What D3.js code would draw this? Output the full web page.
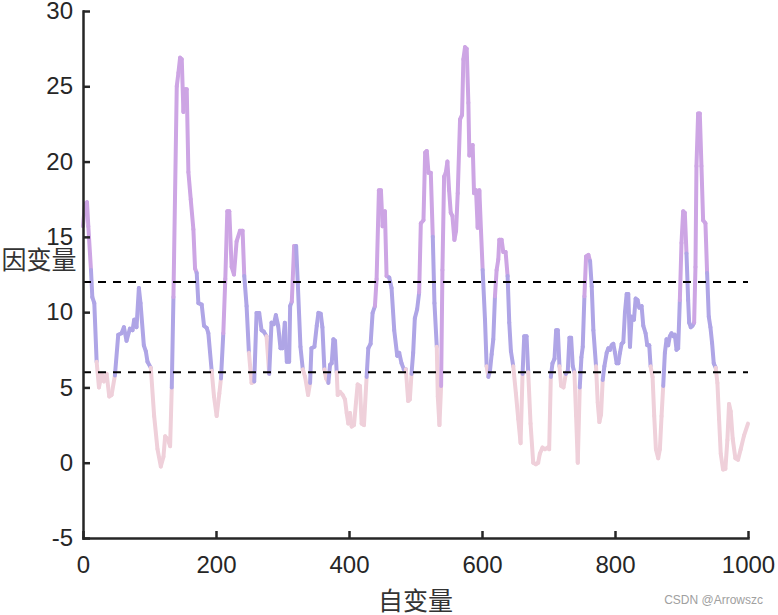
<!DOCTYPE html>
<meta charset="utf-8">
<style>
body { margin: 0; background: #fff; }
.tick text { font-family: 'Liberation Sans', Arial, sans-serif; font-size: 24px; fill: #262626; }
.axislabel { font-family: 'Noto Sans CJK SC', sans-serif; font-size: 25px; fill: #333; }
</style>
<body>
<svg class="chart"></svg>
<script src="https://cdn.jsdelivr.net/npm/d3@7/dist/d3.min.js"></script>
<script>
// chart size
let rwidth = 778, rheight = 615;
let margin = {top: 11, bottom: 77, left: 83, right: 30};

// thresholds and colours
let upper = 12, lower = 6;
let colHigh = '#cda5e4', colMid = '#afa5e6', colLow = '#efd0da';

// ticks
let xTicks = [0, 200, 400, 600, 800, 1000];
let yTicks = [-5, 0, 5, 10, 15, 20, 25, 30];

// series
let xs = [0,3,6,8,12,14,17,20.5,24,28,31.5,35.5,39.5,43,48,53,58,61.5,65.5,70.5,74.5,77,80.5,84,86.5,91.5,94.5,97,102,107,112,117,121,123.5,127,131,133.5,136,141,143.5,146,148.5,151,153.5,156,158.5,162,166,168.5,171,173.5,178.5,182,186,188.5,193.5,197,201,205,207.5,211,214,217,220,223.5,227,231,236,240,242.5,246,249.5,253.5,257.5,261,265,268.5,272,276,280,283.5,287,290,293.5,297,300,303.5,306.5,310,311.5,314,317.5,320.5,323,327,330.5,334,338.5,341.5,343.5,348,351.5,354,357.5,360,363,365.5,369,371.5,374,376.5,379,381.5,383,386.5,390.5,394,396.5,399,401.5,404,407.5,410.5,413,416.5,419,422.5,426.5,429,432.5,435.5,439,441.5,445,448,450.5,454,456.5,460.5,464,468,472.5,475.5,479,482.5,485.5,489,491.5,494,496.5,499,502.5,505.5,508,512,514.5,517,519.5,523,526,528.5,532,533.5,536,538.5,540.5,543,545.5,548,550.5,553,555.5,558.5,561,563.5,567,570,572,574.5,577,579.5,581,583.5,586,588,591,593.5,596,598.5,601,604.5,607,609.5,612,614.5,617,619.5,622,624.5,626,629.5,632,635.5,638.5,641,643.5,647,651,654.5,658,661,663.5,667,669.5,673,677,681,684.5,687,691,694.5,698.5,701,703.5,706,709,711.5,714,716.5,719,722.5,726,729,731.5,734,736.5,739,741.5,744,747,749.5,751.5,754,756.5,760,762.5,765,767.5,771.5,774,776.5,779,781.5,784,787.5,790,792.5,795,797.5,800,802.5,805,807.5,810,812.5,815,817.5,820,822.5,825,828.5,831,834,836.5,840,842.5,846,848.5,851.5,853.5,856.5,859,861.5,865,867.5,870,872.5,875,877.5,880,882.5,885,887.5,890,892.5,895,897.5,900,902.5,905,907.5,910,911.5,914,916.5,919,921,922.5,925,927.5,930,932.5,936,938.5,941,943.5,946,948.5,951.5,954,956.5,959,962.5,966,969,971.5,974,977,981,985,989,994,1000];
let ys = [15.7,17.2,17.3,15.7,12.8,11.0,10.6,6.7,5.0,5.9,5.4,5.9,4.4,4.5,5.8,8.5,8.6,9.0,8.1,8.9,8.8,9.5,9.0,11.6,10.6,7.8,7.4,6.7,6.3,3.1,0.9,-0.25,0.4,1.75,1.6,1.1,5.0,11.0,25.0,25.9,26.9,26.8,23.3,24.8,24.8,19.3,17.5,15.5,12.9,12.6,10.6,10.5,9.1,8.95,8.6,6.1,4.4,3.1,4.6,5.6,8.6,12.2,16.7,16.7,13.0,12.5,14.7,15.4,15.4,12.4,10.4,7.3,5.3,5.4,9.95,9.95,8.8,8.7,8.4,5.9,9.3,9.2,9.8,9.1,7.6,7.6,9.3,6.7,6.7,10.4,10.7,14.4,14.4,11.9,7.7,6.2,5.7,4.5,5.3,7.6,7.7,9.1,9.95,9.9,9.0,6.2,5.6,5.3,6.5,6.6,8.2,8.1,6.0,4.5,4.7,4.5,4.2,3.3,2.6,3.3,2.4,2.5,4.0,5.2,5.1,2.6,2.5,5.7,7.6,7.9,9.95,10.4,12.2,18.1,18.1,15.7,16.7,12.4,12.3,11.6,8.8,7.1,7.3,6.6,6.2,6.2,4.1,4.2,5.9,7.3,9.6,10.2,11.3,15.9,16.1,20.6,20.7,19.25,19.25,15.0,10.6,7.7,4.4,2.5,5.1,12.8,19.0,19.25,20.0,18.1,16.6,16.4,14.8,15.4,17.9,22.8,23.1,26.8,27.6,27.5,23.9,20.4,21.0,21.1,17.9,18.1,15.6,18.1,15.4,12.8,9.5,6.4,5.7,6.1,7.2,8.2,11.05,12.8,13.5,14.8,14.8,14.0,14.0,12.4,9.3,7.4,6.4,4.6,2.9,1.3,5.9,8.4,8.4,6.0,2.6,0.0,-0.1,0.0,0.6,1.0,0.9,1.0,0.9,5.7,6.6,6.9,8.8,8.8,6.4,5.1,5.0,5.9,6.1,8.3,8.3,6.4,6.0,3.1,0.0,5.0,7.0,7.7,11.05,13.7,13.8,13.4,11.7,8.8,6.4,4.0,2.7,3.2,5.5,6.4,7.3,7.6,7.5,7.8,7.9,7.3,6.6,6.6,7.3,7.9,8.0,10.0,11.2,11.2,7.7,9.7,9.5,10.9,10.8,10.3,10.4,9.1,8.6,7.8,7.8,6.4,5.7,3.1,0.9,0.3,0.9,3.1,5.1,7.3,8.2,7.8,8.4,8.6,8.4,8.5,7.5,7.6,10.8,14.6,16.7,16.6,13.9,10.8,9.3,9.0,9.1,9.3,13.0,19.7,23.2,23.2,19.7,16.1,15.9,12.6,9.7,9.0,7.95,6.6,6.3,5.3,2.9,0.6,-0.45,-0.4,1.5,3.9,3.4,1.6,0.3,0.2,0.9,1.8,2.6];

let svg = d3.select('.chart')
    .attr('width', rwidth)
    .attr('height', rheight);

let xscale = d3.scaleLinear().domain([0, 1000]).range([margin.left, rwidth - margin.right]);
let yscale = d3.scaleLinear().domain([-5, 30]).range([rheight - margin.bottom, margin.top]);

let points = xs.map((x, i) => ({x: x, y: ys[i]}));

// colour each segment by the value it ends on
function segColor(v) {
    if (v > upper) return colHigh;
    if (v < lower) return colLow;
    return colMid;
}

let line = d3.line()
    .x(d => xscale(d.x))
    .y(d => yscale(d.y));

svg.append('g').selectAll('path')
    .data(d3.pairs(points))
    .join('path')
    .attr('d', d => line(d))
    .attr('stroke', d => segColor(d[1].y))
    .attr('stroke-width', 4)
    .attr('stroke-linecap', 'round')
    .attr('fill', 'none');

// threshold lines
svg.selectAll('.thresh')
    .data([upper, lower])
    .join('line')
    .attr('class', 'thresh')
    .attr('x1', xscale(0))
    .attr('x2', xscale(1000))
    .attr('y1', d => yscale(d))
    .attr('y2', d => yscale(d))
    .attr('stroke', '#000')
    .attr('stroke-width', 2)
    .attr('stroke-dasharray', '8,7');

// axes, ticks pointing inwards
let xaxis = svg.append('g')
    .attr('transform', `translate(0,${yscale(-5)})`)
    .call(d3.axisBottom(xscale).tickValues(xTicks).tickFormat(d => String(d))
        .tickSizeInner(-7).tickSizeOuter(0).tickPadding(18));

let yaxis = svg.append('g')
    .attr('transform', `translate(${xscale(0)},0)`)
    .call(d3.axisLeft(yscale).tickValues(yTicks).tickFormat(d => String(d))
        .tickSizeInner(-7).tickSizeOuter(0).tickPadding(10));

[xaxis, yaxis].forEach(a => {
    a.selectAll('path, line').attr('stroke', '#262626').attr('stroke-width', 2.5);
    a.select('.domain').attr('stroke-linecap', 'square');
});

// labels
svg.append('text')
    .attr('class', 'axislabel')
    .attr('x', 39)
    .attr('y', yscale(13.6))
    .attr('dominant-baseline', 'central')
    .style('text-anchor', 'middle')
    .text('因变量');

svg.append('text')
    .attr('class', 'axislabel')
    .attr('x', xscale(500))
    .attr('y', 599)
    .attr('dominant-baseline', 'central')
    .style('text-anchor', 'middle')
    .text('自变量');

svg.append('text')
    .attr('x', 763)
    .attr('y', 604)
    .style('text-anchor', 'end')
    .style('font-family', "'Liberation Sans', Arial, sans-serif")
    .style('font-size', '12px')
    .style('fill', '#a0a0a0')
    .text('CSDN @Arrowszc');
</script>
</body>
